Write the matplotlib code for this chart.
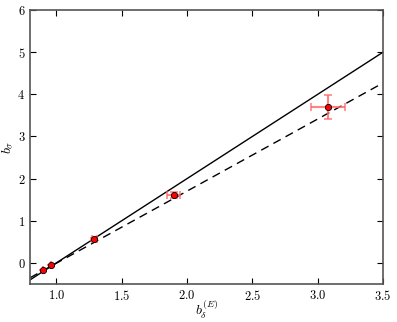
import numpy as np
import matplotlib
matplotlib.use("Agg")
import matplotlib.pyplot as plt
from matplotlib.ticker import FuncFormatter

plt.rcParams['mathtext.fontset'] = 'cm'
plt.rcParams['font.family'] = 'serif'
plt.rcParams['font.serif'] = ['DejaVu Serif']

# measured points
b_delta = [0.90, 0.96, 1.29, 1.90, 3.08]
b_sigma = [-0.16, -0.04, 0.57, 1.62, 3.70]
xerr = [0.0, 0.0, 0.02, 0.05, 0.13]
yerr = [0.0, 0.0, 0.03, 0.07, 0.29]

# model lines
line_x = [0.8, 3.5]
solid_y = [-0.4, 5.0]
dashed_y = [-0.35, 4.27]

fig = plt.figure(figsize=(3.97, 3.22), dpi=100)
ax = fig.add_axes([0.076, 0.118, 0.889, 0.851])

ax.plot(line_x, solid_y, 'k-', lw=1.0)
ax.plot(line_x, dashed_y, 'k--', lw=1.0, dashes=(6, 4))
ax.errorbar(b_delta, b_sigma, xerr=xerr, yerr=yerr, fmt='none',
            ecolor=(1, 0.4, 0.4), elinewidth=1.5, capsize=3, capthick=1.2, alpha=0.8)
ax.plot(b_delta, b_sigma, 'o', color='red', mec='black', mew=0.6, ms=4.5)

ax.set_xlim(0.8, 3.5)
ax.set_ylim(-0.5, 6)
ax.set_xticks([1.0, 1.5, 2.0, 2.5, 3.0, 3.5])
ax.set_yticks([0, 1, 2, 3, 4, 5, 6])
ax.xaxis.set_major_formatter(FuncFormatter(lambda v, p: r'$%.1f$' % v))
ax.yaxis.set_major_formatter(FuncFormatter(lambda v, p: r'$%d$' % v))
ax.tick_params(direction='in', top=True, right=True, length=4, width=0.8, labelsize=9)
for s in ax.spines.values():
    s.set_linewidth(1.2)
    s.set_color('#555555')

ax.set_xlabel(r'$b_\delta^{(E)}$', fontsize=10, labelpad=-3)
ax.set_ylabel(r'$b_\sigma$', fontsize=10, labelpad=2)

fig.savefig('out.png', dpi=100)
